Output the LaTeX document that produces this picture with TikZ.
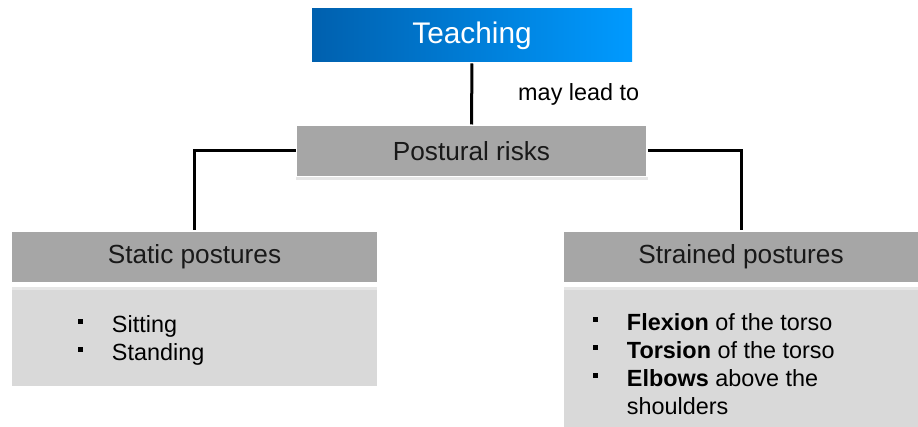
\documentclass[tikz,border=0pt]{standalone}
\usepackage{fontspec}
\setmainfont{Liberation Sans}
\usepackage{tikz}
\usetikzlibrary{positioning}
\definecolor{headgray}{HTML}{A6A6A6}
\definecolor{bodygray}{HTML}{D9D9D9}
\definecolor{stripgray}{HTML}{E6E6E6}
\definecolor{teachdark}{HTML}{0060AE}
\definecolor{teachlight}{HTML}{009AFF}
\newcommand{\bul}{\makebox[17pt][l]{\rule[4.5pt]{2.6pt}{2.6pt}}}
\tikzset{
every picture/.style={line width=1.5pt},
%%%%%%%%%%  Node styles
topbox/.style={rectangle, inner sep=0pt, minimum width=160pt, minimum height=26.5pt,
               left color=teachdark, right color=teachlight, text=white,
               font=\fontsize{14.9}{17}\selectfont},
headbox/.style={rectangle, fill=headgray, inner sep=0pt, minimum height=25pt,
                text=black!90, font=\fontsize{13.1}{15}\selectfont},
bodybox/.style={rectangle, fill=bodygray, inner sep=0pt,
                path picture={\fill[stripgray] (path picture bounding box.north west)
                  rectangle ([yshift=-1.5pt]path picture bounding box.north east);}},
listbox/.style={inner sep=0pt, align=left, text=black,
                font=\fontsize{11.7}{14}\selectfont},
%%%%%%% line styles
tree/.style={line width=1.5pt, draw=black}
}

\begin{document}
\begin{tikzpicture}[x=0.5pt,y=-0.5pt]
\useasboundingbox (0,0) rectangle (918,427);

\node[topbox] (teach) at (472,35.5) {Teaching};
\node[headbox, minimum width=174.5pt] (risks) at (471.5,151) {Postural risks};
\fill[stripgray] (risks.south west) rectangle ([yshift=-1.5pt]risks.south east);

\node[headbox, minimum width=182.5pt] (static) at (194.5,257) {Static postures};
\node[bodybox, minimum width=182.5pt, minimum height=49.5pt, below=1pt of static] (staticbody) {};

\node[headbox, minimum width=177pt] (strained) at (741,257) {Strained postures};
\node[bodybox, minimum width=177pt, minimum height=71.5pt, below=1pt of strained] (strainedbody) {};

%% the lists
\node[listbox, anchor=north west] (staticlist) at ([xshift=33pt,yshift=-14.5pt]staticbody.north west)
  {\bul Sitting\\ \bul Standing};
\node[listbox, anchor=north west] (strainedlist) at ([xshift=14.5pt,yshift=-13.5pt]strainedbody.north west)
  {\bul\textbf{Flexion} of the torso\\ \bul\textbf{Torsion} of the torso\\
   \bul\textbf{Elbows} above the\\ \hspace*{17pt}shoulders};

%% connectors
\draw[tree] (teach) -- node[midway, right=22.5pt, inner sep=0pt, font=\fontsize{11.7}{14}\selectfont] (lead) {may lead to} (risks);
\draw[tree] (risks.west) -| (static);
\draw[tree] (risks.east) -| (strained);

\end{tikzpicture}
\end{document}
